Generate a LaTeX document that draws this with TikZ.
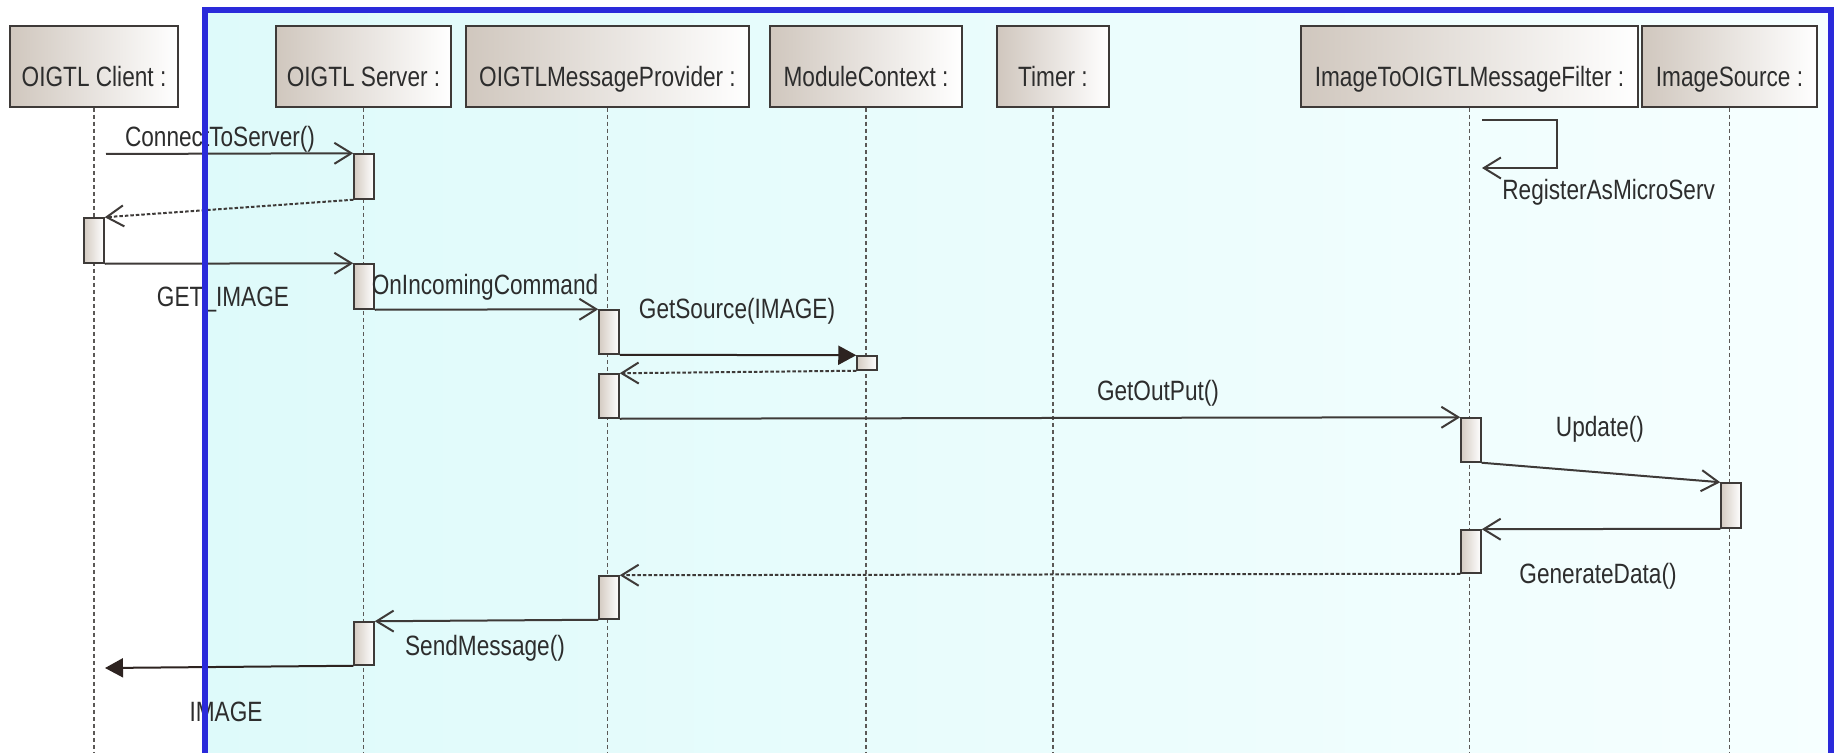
\documentclass[tikz,border=0pt]{standalone}
\usepackage{fontspec}
\setmainfont{Liberation Sans}[FakeStretch=0.81]
\usetikzlibrary{arrows.meta}
\definecolor{frameblue}{RGB}{42,42,218}
\definecolor{headtan}{RGB}{208,199,190}
\definecolor{bartan}{RGB}{212,203,194}
\definecolor{inkgrey}{RGB}{62,58,56}
\definecolor{tipdark}{RGB}{45,35,32}
\definecolor{textgrey}{RGB}{45,45,45}
\definecolor{poolleft}{RGB}{222,250,250}
\definecolor{poolright}{RGB}{246,255,255}
\tikzset{
  headbox/.style={draw=inkgrey,line width=0.3mm,left color=headtan,right color=white,
    minimum height=81*0.2mm,inner sep=0pt},
  headtext/.style={anchor=base,text=textgrey,inner sep=0pt,font=\fontsize{15.9}{18}\selectfont},
  lifeline/.style={draw=inkgrey!85,line width=0.25mm,dash pattern=on 0.8mm off 0.6mm},
  actbar/.style={draw=inkgrey,line width=0.3mm,left color=bartan,right color=white,
    minimum width=20*0.2mm,inner sep=0pt},
  msg/.style={draw=inkgrey,line width=0.4mm,-{Straight Barb[length=3.4mm,width=4.2mm]}},
  reply/.style={msg,dash pattern=on 0.7mm off 0.4mm},
  signal/.style={draw=tipdark,line width=0.4mm,-{Triangle[length=3.6mm,width=3.8mm]}},
  msgtext/.style={anchor=base,text=textgrey,inner sep=0pt,font=\fontsize{15.9}{18}\selectfont}
}
% lifeline head: name, left x, right x, text
\newcommand{\shead}[4]{%
  \node[headbox,minimum width={(#3-#2)*0.2mm}] (#1) at ({(#2+#3)/2},66.5) {};
  \node[headtext] (#1-t) at ({(#2+#3)/2},87) {#4};
  \draw[lifeline] (#1.south) -- (#1.south |- 0,753);}
% activation bar: name, x, top y, bottom y
\newcommand{\sbar}[4]{%
  \node[actbar,minimum height={(#4-#3)*0.2mm}] (#1) at (#2,{(#3+#4)/2}) {};}

\begin{document}
\begin{tikzpicture}[x=0.2mm,y=-0.2mm]
  \useasboundingbox (0,0) rectangle (1835,753);
  \fill[white] (0,0) rectangle (1835,753);
  \shade[left color=poolleft,right color=poolright] (205,10) rectangle (1831,753);

  \shead{client}{10}{178}{OIGTL Client :}
  \shead{server}{276}{451}{OIGTL Server :}
  \shead{provider}{466}{749}{OIGTLMessageProvider :}
  \shead{context}{770}{962}{ModuleContext :}
  \shead{timer}{997}{1109}{Timer :}
  \shead{filter}{1301}{1638}{ImageToOIGTLMessageFilter :}
  \shead{source}{1642}{1817}{ImageSource :}

  \sbar{sb1}{364}{154}{199}
  \sbar{cb1}{94}{218}{263}
  \sbar{sb2}{364}{264}{309}
  \sbar{pb1}{609}{310}{354}
  \sbar{mb1}{867}{356}{370}
  \sbar{pb2}{609}{374}{418}
  \sbar{fb1}{1471}{418}{462}
  \sbar{ib1}{1731}{483}{528}
  \sbar{fb2}{1471}{530}{573}
  \sbar{pb3}{609}{576}{619}
  \sbar{sb3}{364}{622}{665}

  % calls and replies
  \coordinate (conn) at (106,154);
  \draw[msg] (conn) -- (sb1.north west);
  \draw[reply] (sb1.south west) -- (cb1.north east);
  \draw[msg] (cb1.south east) -- (sb2.north west);
  \draw[msg] (sb2.south east) -- (pb1.north west);
  \draw[signal] (pb1.south east) -- (mb1.north west);
  \draw[reply] (mb1.south west) -- (pb2.north east);
  \draw[msg] (pb2.south east) -- (fb1.north west);
  \coordinate (rega) at (1482,120);
  \coordinate (regb) at (1482,168);
  \draw[msg] (rega) -- (1557,120) -- (1557,168) -- (regb);
  \draw[msg] (fb1.south east) -- (ib1.north west);
  \draw[msg] (ib1.south west) -- (fb2.north east);
  \draw[reply] (fb2.south west) -- (pb3.north east);
  \draw[msg] (pb3.south west) -- (sb3.north east);
  \coordinate (imgend) at (105,668);
  \draw[signal] (sb3.south west) -- (imgend);

  \node[msgtext] (lconn) at (220,147) {ConnectToServer()};
  \node[msgtext] (lget) at (223,306) {GET\_IMAGE};
  \node[msgtext] (linc) at (485,294) {OnIncomingCommand};
  \node[msgtext] (lsrc) at (737,318) {GetSource(IMAGE)};
  \node[msgtext] (lout) at (1158,400) {GetOutPut()};
  \node[msgtext,anchor=base west] (lreg) at (1502,199) {RegisterAsMicroServ};
  \node[msgtext] (lupd) at (1600,436) {Update()};
  \node[msgtext] (lgen) at (1598,583) {GenerateData()};
  \node[msgtext] (lsend) at (485,655) {SendMessage()};
  \node[msgtext] (limg) at (226,721) {IMAGE};

  \draw[frameblue,line width=1.2mm] (205,753) -- (205,10) -- (1831,10) -- (1831,753);
\end{tikzpicture}
\end{document}
